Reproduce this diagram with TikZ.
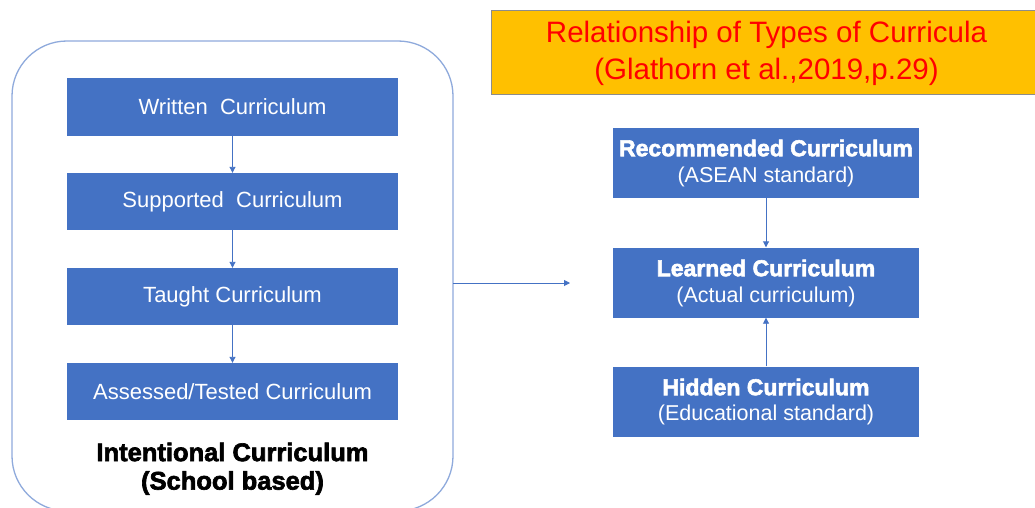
\documentclass[tikz,border=0pt]{standalone}
\usepackage{fontspec}
\setmainfont{Liberation Sans}
\newfontfamily\hvy{Liberation Sans Bold}[FakeBold=2.5]
\usetikzlibrary{arrows.meta}
\definecolor{boxblue}{HTML}{4472C4}
\definecolor{framecol}{HTML}{8FAADC}
\definecolor{titlefill}{HTML}{FFC000}
\definecolor{titleline}{HTML}{8C8C8C}
\begin{document}
\begin{tikzpicture}[x=1pt,y=-1pt,
  lbox/.style={fill=boxblue, draw=none, minimum width=331pt, minimum height=57pt, inner sep=0pt,
    text=white, font=\fontsize{22}{26}\selectfont},
  rbox/.style={fill=boxblue, draw=none, minimum width=306pt, minimum height=70pt, inner sep=0pt},
  rhead/.style={text=white, inner sep=0pt, font=\hvy\fontsize{23}{27}\selectfont},
  rsub/.style={text=white, inner sep=0pt, font=\fontsize{21.5}{26}\selectfont},
  conn/.style={draw=boxblue, line width=0.9pt, -{Triangle[length=6pt,width=6pt]}},
  titletext/.style={text=red, inner sep=0pt, font=\fontsize{29.5}{34}\selectfont}
]
\useasboundingbox (0,0) rectangle (1035,508);
\clip (0,0) rectangle (1035,508);
\fill[white] (0,0) rectangle (1035,508);

% container
\draw[framecol, line width=1.3pt, rounded corners=55pt] (12,41) rectangle (453,511);
\coordinate (contR) at (453,283);

% title
\node[draw=titleline, fill=titlefill, line width=1pt, minimum width=560pt, minimum height=84pt,
  inner sep=0pt, anchor=north west] (title) at (491,10) {};
\node[titletext] (t1) at (766.5,35) {Relationship of Types of Curricula};
\node[titletext] (t2) at (766.5,72) {(Glathorn et al.,2019,p.29)};

% left boxes
\node[lbox] (w) at (232.5,107) {Written\ \ Curriculum};
\node[lbox] (s) at (232.5,201.5) {Supported\ \ Curriculum};
\node[lbox] (t) at (232.5,296.5) {Taught Curriculum};
\node[lbox] (a) at (232.5,391.5) {Assessed/Tested Curriculum};
\draw[conn] (w) -- (s);
\draw[conn] (s) -- (t);
\draw[conn] (t) -- (a);

\node[inner sep=0pt, font=\hvy\fontsize{25.5}{30}\selectfont] (ic1) at (232.5,452) {Intentional Curriculum};
\node[inner sep=0pt, font=\hvy\fontsize{25.5}{30}\selectfont] (ic2) at (232.5,483) {(School based)};

% right boxes
\node[rbox] (rec) at (766,163) {};
\node[rhead] (rech) at (766,148) {Recommended Curriculum};
\node[rsub] (recs) at (766,177) {(ASEAN standard)};

\node[rbox] (lea) at (766,282.5) {};
\node[rhead] (leah) at (766,268) {Learned Curriculum};
\node[rsub] (leas) at (766,297) {(Actual curriculum)};

\node[rbox] (hid) at (766,401.5) {};
\node[rhead] (hidh) at (766,387) {Hidden Curriculum};
\node[rsub] (hids) at (766,415) {(Educational standard)};

\draw[conn] (rec) -- (lea);
\draw[conn] (hid) -- (lea);

\coordinate (arrEnd) at (570,283);
\draw[conn] (contR) -- (arrEnd);
\end{tikzpicture}
\end{document}
